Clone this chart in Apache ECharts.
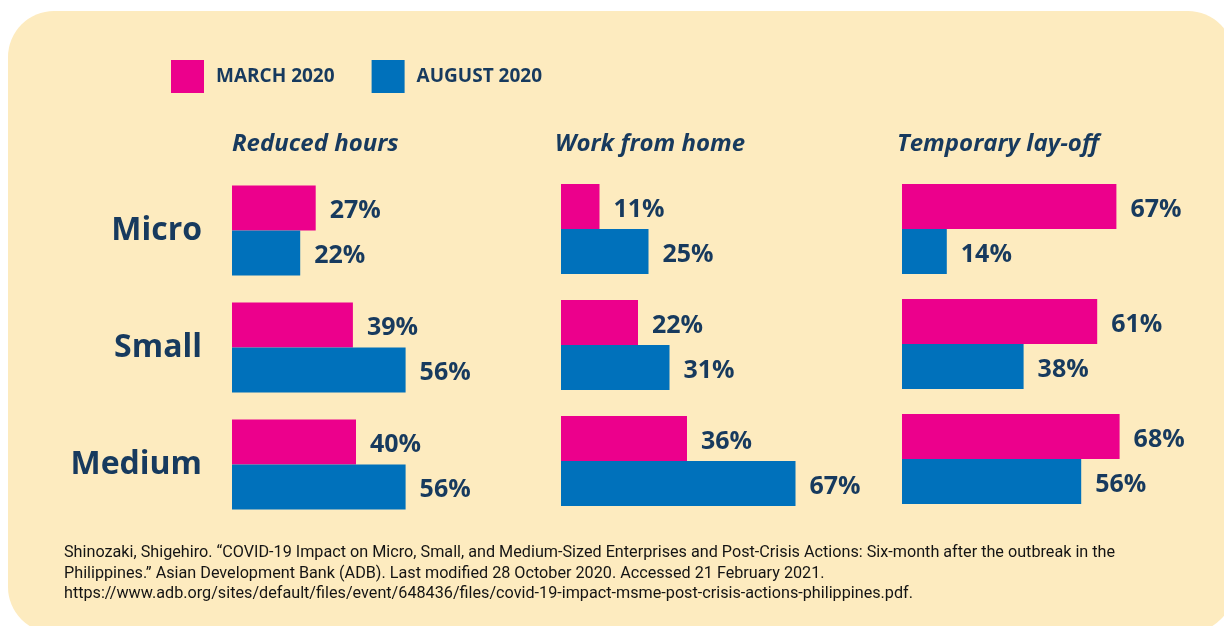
<!DOCTYPE html>
<html>
<head>
<meta charset="utf-8">
<style>
  html, body { margin: 0; padding: 0; background: #fff; }
  #chart { width: 1224px; height: 626px; }
</style>
<script src="https://cdn.jsdelivr.net/npm/echarts@6/dist/echarts.min.js"></script>
</head>
<body>
<div id="chart"></div>
<script>
// data
const sizes = ['Micro', 'Small', 'Medium'];
const panels = ['Reduced hours', 'Work from home', 'Temporary lay-off'];
const march2020 = [
  [27, 39, 40],  // Reduced hours
  [11, 22, 36],  // Work from home
  [67, 61, 68]   // Temporary lay-off
];
const august2020 = [
  [22, 56, 56],
  [25, 31, 67],
  [14, 38, 56]
];
const sourceLines = [
  'Shinozaki, Shigehiro. \u201cCOVID-19 Impact on Micro, Small, and Medium-Sized Enterprises and Post-Crisis Actions: Six-month after the outbreak in the',
  'Philippines.\u201d Asian Development Bank (ADB). Last modified 28 October 2020. Accessed 21 February 2021.',
  'https://www.adb.org/sites/default/files/event/648436/files/covid-19-impact-msme-post-crisis-actions-philippines.pdf.'
];

const navy = '#173a5e';
const pink = '#ec008c';
const blue = '#0071bb';
const font = 'Open Sans';

// layout of the three panels (px)
const grids = [
  { left: 232, top: 172, width: 310, height: 351 },
  { left: 561, top: 171, width: 350, height: 348 },
  { left: 902, top: 171.5, width: 320, height: 345 }
];
const titleLeft = [232, 555, 897];

const chart = echarts.init(document.getElementById('chart'));

const barLabel = {
  show: true,
  position: 'right',
  distance: 14,
  offset: [0, 3],
  formatter: '{c}%',
  color: navy,
  fontFamily: font,
  fontWeight: 'bold',
  fontSize: 25
};

const series = [];
panels.forEach((p, i) => {
  series.push({
    name: 'MARCH 2020', type: 'bar', xAxisIndex: i, yAxisIndex: i,
    barWidth: 45, barGap: '0%',
    itemStyle: { color: pink },
    label: barLabel,
    data: march2020[i]
  });
  series.push({
    name: 'AUGUST 2020', type: 'bar', xAxisIndex: i, yAxisIndex: i,
    barWidth: 45, barGap: '0%',
    itemStyle: { color: blue },
    label: barLabel,
    data: august2020[i]
  });
});

const option = {
  backgroundColor: '#fff',
  animation: false,
  graphic: [
    {
      type: 'rect', z: -10, silent: true,
      shape: { x: 8, y: 11, width: 1226, height: 622, r: 46 },
      style: { fill: '#fdebbf' }
    }
  ].concat(sourceLines.map((t, i) => ({
    type: 'text', x: 64, y: 553 + i * 20.5, silent: true,
    style: { text: t, fill: '#141414', font: '16.2px Roboto', verticalAlign: 'middle' }
  }))),
  legend: {
    left: 171, top: 60, padding: 0,
    icon: 'rect',
    itemWidth: 33, itemHeight: 33,
    itemGap: 37,
    data: ['MARCH 2020', 'AUGUST 2020'],
    textStyle: { color: navy, fontFamily: font, fontWeight: 'bold', fontSize: 19, padding: [8, 0, 0, 7] }
  },
  title: panels.map((p, i) => ({
    text: p,
    left: titleLeft[i], top: 132, padding: 0,
    textStyle: { color: navy, fontFamily: font, fontStyle: 'italic', fontWeight: 'bold', fontSize: 24 }
  })),
  grid: grids,
  xAxis: grids.map((g, i) => ({
    type: 'value', gridIndex: i, min: 0, max: 100, show: false
  })),
  yAxis: grids.map((g, i) => ({
    type: 'category', gridIndex: i, inverse: true, data: sizes,
    axisLine: { show: false }, axisTick: { show: false },
    axisLabel: {
      show: i === 0, margin: 30, color: navy,
      fontFamily: font, fontWeight: 'bold', fontSize: 32
    }
  })),
  series: series
};

chart.setOption(option);
</script>
</body>
</html>
